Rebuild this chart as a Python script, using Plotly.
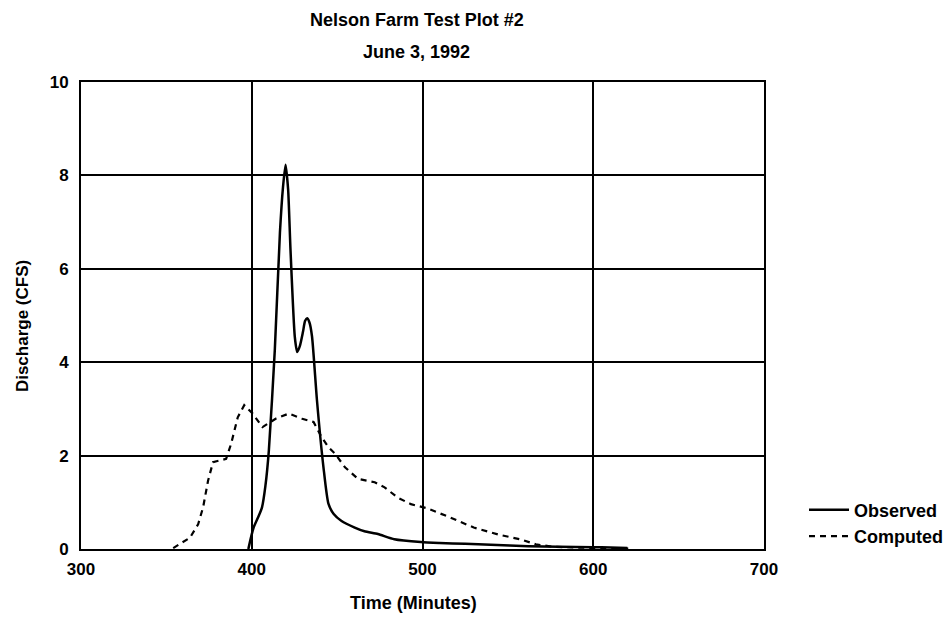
import plotly.graph_objects as go

# Observed hydrograph (minutes, CFS)
obs_t = [398, 401, 404, 406, 408, 410, 413.5, 416.5, 418.3, 419.8, 421.3, 422.7, 425.2, 426.6,
         428.2, 430, 431.2, 432.4, 433.8, 435.3, 438.2, 442, 444.9, 448, 452.6, 460.3, 466,
         473.9, 483.5, 499, 510, 525, 540, 562, 580, 600, 610, 620]
obs_q = [0.0, 0.45, 0.7, 0.89, 1.35, 2.1, 4.26, 6.77, 7.75, 8.23, 7.7, 6.4, 4.55, 4.22,
         4.35, 4.65, 4.88, 4.94, 4.85, 4.55, 3.18, 1.75, 0.97, 0.75, 0.6, 0.46, 0.38,
         0.32, 0.21, 0.15, 0.13, 0.11, 0.09, 0.06, 0.05, 0.04, 0.03, 0.02]

# Computed hydrograph (minutes, CFS)
cmp_t = [354, 363.8, 368.6, 371.5, 374.4, 377.3, 385, 387.9, 391.8, 395.6, 400.5, 406.3, 414,
         421.7, 429.5, 436.2, 441, 444.9, 448.8, 454.6, 462.3, 472, 477.8, 485.5, 493.2, 502.9,
         514.5, 530, 545.4, 557, 566.4, 576, 590, 605, 621]
cmp_q = [0.02, 0.24, 0.53, 0.89, 1.46, 1.86, 1.93, 2.25, 2.82, 3.08, 2.9, 2.61, 2.79,
         2.9, 2.79, 2.72, 2.39, 2.18, 2.04, 1.75, 1.5, 1.43, 1.32, 1.1, 0.96, 0.87,
         0.7, 0.46, 0.3, 0.21, 0.1, 0.05, 0.03, 0.02, 0.01]

x_ticks = [300, 400, 500, 600, 700]
y_ticks = [0, 2, 4, 6, 8, 10]

title_lines = ["Nelson Farm Test Plot #2", "June 3, 1992"]
x_title = "Time (Minutes)"
y_title = "Discharge (CFS)"

FONT = "Liberation Sans, Arial, sans-serif"

W, H = 951, 620
ML, MR, MT, MB = 73, 194, 74, 79
PW = W - ML - MR
PH = H - MT - MB


def px_x(px):
    return (px - ML) / PW


def px_y(py):
    return (H - MB - py) / PH


fig = go.Figure()
fig.add_trace(go.Scatter(x=obs_t, y=obs_q, mode="lines", name="<b>Observed</b>",
                         line=dict(color="black", width=2.5, shape="spline", smoothing=0.6)))
fig.add_trace(go.Scatter(x=cmp_t, y=cmp_q, mode="lines", name="<b>Computed</b>",
                         line=dict(color="black", width=2.2, dash="6px,5px")))

annotations = [
    dict(text=f"<b>{title_lines[0]}</b>", x=px_x(409), y=px_y(12), xref="paper", yref="paper",
         showarrow=False, xanchor="center", yanchor="middle", font=dict(size=18)),
    dict(text=f"<b>{title_lines[1]}</b>", x=px_x(409), y=px_y(44), xref="paper", yref="paper",
         showarrow=False, xanchor="center", yanchor="middle", font=dict(size=18)),
    dict(text=f"<b>{x_title}</b>", x=px_x(406), y=px_y(595), xref="paper", yref="paper",
         showarrow=False, xanchor="center", yanchor="middle", font=dict(size=18)),
    dict(text=f"<b>{y_title}</b>", x=px_x(14), y=px_y(318), xref="paper", yref="paper",
         showarrow=False, xanchor="center", yanchor="middle", textangle=-90, font=dict(size=17)),
]

fig.update_layout(
    width=W, height=H,
    margin=dict(l=ML, r=MR, t=MT, b=MB),
    paper_bgcolor="white", plot_bgcolor="white",
    font=dict(family=FONT, color="black", size=17),
    showlegend=True,
    legend=dict(x=px_x(796), xanchor="left", y=px_y(515), yanchor="middle",
                font=dict(size=18, family=FONT, color="black"),
                bgcolor="rgba(0,0,0,0)", tracegroupgap=0, itemwidth=40),
    annotations=annotations,
)
fig.update_xaxes(range=[300, 700], tickvals=x_ticks,
                 ticktext=[f"<b>{v}</b>" for v in x_ticks],
                 showgrid=True, gridcolor="black", gridwidth=2,
                 showline=True, linecolor="black", linewidth=2, mirror=True,
                 zeroline=False, ticks="", tickfont=dict(size=17),
                 ticklabelstandoff=4, automargin=False)
fig.update_yaxes(range=[0, 10], tickvals=y_ticks,
                 ticktext=[f"<b>{v}</b>" for v in y_ticks],
                 showgrid=True, gridcolor="black", gridwidth=2,
                 showline=True, linecolor="black", linewidth=2, mirror=True,
                 zeroline=False, ticks="", tickfont=dict(size=17),
                 ticklabelstandoff=7, automargin=False)

fig.write_html("out.html")
